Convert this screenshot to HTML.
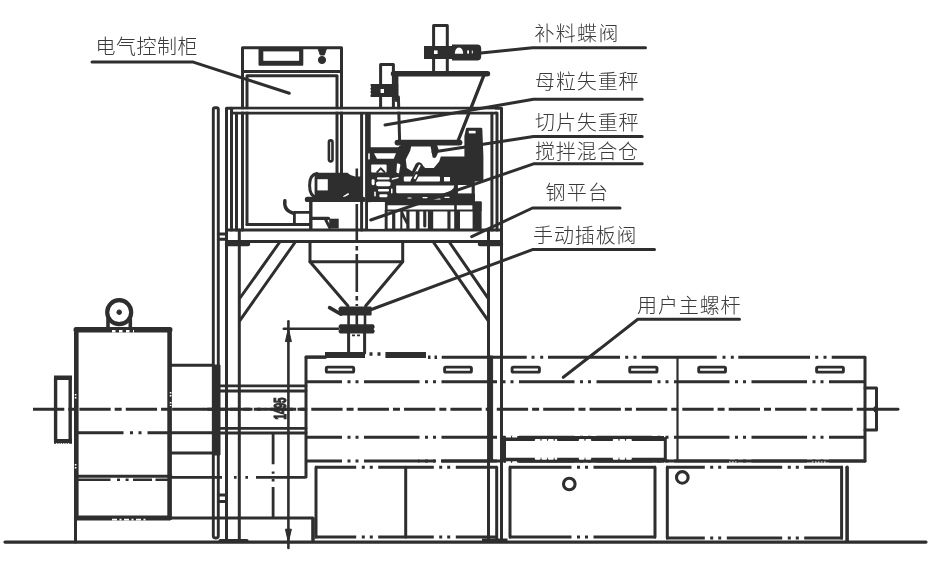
<!DOCTYPE html>
<html lang="zh">
<head>
<meta charset="utf-8">
<style>
html,body{margin:0;padding:0;background:#fff;}
body{width:930px;height:570px;overflow:hidden;}
svg{display:block;will-change:transform;}
text{font-family:"Liberation Sans","Noto Sans CJK SC",sans-serif;font-weight:300;font-size:20px;fill:#3a3a3a;}
.l{fill:none;stroke:#2e2e2e;stroke-width:3;stroke-linecap:round;stroke-linejoin:round;}
.t{fill:none;stroke:#2e2e2e;stroke-width:2.9;stroke-linecap:round;stroke-linejoin:round;}
.k{fill:none;stroke:#2e2e2e;stroke-width:4.5;stroke-linecap:round;stroke-linejoin:round;}
.f{fill:#2e2e2e;stroke:#2e2e2e;stroke-width:1;stroke-linejoin:round;}
.w{fill:#fff;stroke:none;}
.d0{stroke-linecap:butt;}
.dot{stroke-linecap:round;}
</style>
</head>
<body>
<svg width="930" height="570" viewBox="0 0 930 570">
<rect width="930" height="570" fill="#fff"/>



<!-- GROUND -->
<path class="l" d="M5 542.1H926" style="stroke-width:3.2"/>


<!-- CENTRE LINE -->
<path class="t" d="M33 409.3H864" stroke-dasharray="31.3 4 7 4.08" style="stroke-linecap:butt"/>
<path class="t" d="M864 409.3H898"/>

<!-- MOTOR -->
<g id="motor">
<circle class="l" cx="119.2" cy="312.2" r="12" style="stroke-width:4.2"/>
<circle class="f" cx="119.2" cy="312.2" r="2.3"/>
<path class="l" d="M108 319V328M130.3 319V328" style="stroke-width:3.6"/>
<path class="k" d="M76.3 329.6V518M169.6 329.6V518" style="stroke-width:4.6"/>
<path class="k" d="M76.2 329.7H169.8" style="stroke-width:5.4"/>
<path class="k" d="M76.2 518H169.8" style="stroke-width:4.8"/>
<path d="M112 331.2H134" fill="none" stroke="#fff" stroke-width="2.4" stroke-dasharray="3.5 3.5"/>
<path class="l" d="M75.5 518V542"/>
<path d="M75.6 394V400M75.6 464V470M170.6 392V397M170.6 402V406" fill="none" stroke="#fff" stroke-width="1.6" stroke-dasharray="1.6 1.4"/>
<path class="l" d="M76 476.2H171"/>
<path class="l" d="M76 479.8H110.5M117 479.8H120M125.6 479.8H128.6M133 479.8H152M155.5 479.8H171" style="stroke-linecap:butt;stroke-width:2.6"/>
<path d="M112 519.6H146" fill="none" stroke="#fff" stroke-width="1.6" stroke-dasharray="5 2.5 2 2.5"/>
<path class="l" d="M171 477.3H222M234 477.3H236.6M245.4 477.3H248M256 477.3H305.5" style="stroke-linecap:butt;stroke-width:2.8"/>
<path class="t" d="M273.1 432.8V464.2M273.1 471.4V473.8M273.1 479V481.4M273.1 487V518" style="stroke-linecap:butt;stroke-width:2.8"/>
<path class="t" d="M218.3 495H226.5M218.3 501.5H226.5"/>
<path class="l" d="M171 518H313"/>
<path class="l" d="M77 432.7H213" stroke-dasharray="46.5 6.5 3 5.5 3 6 100" style="stroke-linecap:butt"/>
<path class="l" d="M220 385.8H306M220 391H306M220 428.3H306M220 433H306" style="stroke-width:2.8"/>
<path class="t" d="M203 409.3H306" stroke-dasharray="9 4.5" style="stroke-linecap:butt"/>
<path class="l" d="M55.6 378V441.5M70.2 378V441.5" style="stroke-width:3.4"/>
<path class="k" d="M54 377.8H72M54 441.4H72" style="stroke-width:4.6;stroke-linecap:butt"/>
<path d="M56 443.6H70" fill="none" stroke="#fff" stroke-width="1" stroke-dasharray="1.2 1.2"/>
<path class="l" d="M171 365.3H213M171 453H213"/>
<rect class="f" x="213" y="365" width="7" height="90"/>
</g>

<!-- POSTS / FRAME -->
<g id="frame">
<path class="t" d="M213.3 536V109.5Q213.3 107.7 215 107.7H216.7Q218.3 107.7 218.3 109.5V536Q218.3 538 215.8 538Q213.3 538 213.3 536Z"/>
<path class="l" d="M226.5 541V108.2H501.5V541"/>
<path class="l" d="M231.5 230V108.2M231.5 112.9H497V230"/>
<path class="l" d="M236.5 112.9V230"/>
<path class="l" d="M239.3 230V541M488.5 230V357"/>
<path class="l" d="M491.9 112.9V230"/>
<path class="l" d="M220 540.5H247"/>
<!-- deck -->
<path class="l" d="M226.5 230H501.5M226.5 241.5H501.5" />
<path class="k" d="M227 244H248M480 244H501"/>
<path class="t" d="M218.3 234H226.5M218.3 239.2H226.5"/>
<!-- braces -->
<path class="l" d="M279.8 242L240 298M295.3 242L240 320.3"/>
<path class="l" d="M433.3 242L488 320.3M449.3 242L488 298.2"/>
</g>

<!-- ELECTRICAL CABINET -->
<g id="cabinet">
<path class="l" d="M242.5 230V47.7H341.5V173"/>
<path class="l" d="M242.5 71.4H341.5"/>
<path class="l" d="M247 224.6V75.7H337V173"/>
<path class="l" d="M247 224.6H310"/>
<rect x="258.5" y="48.5" width="44.8" height="17.2" rx="1" fill="#2e2e2e"/>
<rect class="w" x="263.3" y="51.4" width="35.8" height="9.4"/>
<path class="f" d="M318 48.5h8.5l-2.2 6.5h-4z"/>
<circle class="f" cx="322" cy="60" r="3.6"/>
<rect class="t" x="328.9" y="140.4" width="3.6" height="21" rx="1.8" style="stroke-width:2.6"/>
</g>


<!-- MACHINERY ON DECK -->
<g id="mach">
<!-- refill pipe + butterfly valve -->
<path class="l" d="M433.6 73V25.4H447.3V73"/>
<path d="M424 46H452V44.6H477.2Q481.2 44.6 481.2 48.6V56.4Q481.2 60.4 477.2 60.4H452V59H424Z" fill="#2e2e2e"/>
<rect class="w" x="434" y="50.4" width="3.6" height="3.6"/>
<path class="w" d="M454.8 53.8Q455 48 459 47.6Q463 48 463.2 53.8Z"/>
<rect class="w" x="467.2" y="50.4" width="1.8" height="3.2"/>
<rect class="w" x="471.8" y="50.6" width="1" height="2.8"/>
<!-- small pipe + valve -->
<path class="l" d="M380.6 107V64.6H393.4V107"/>
<path d="M371.5 84H398.2V97H371.5Q370 97 370.4 95.5L371.2 93.7L370.3 92L371.2 90.4L370.3 88.7L371.2 87L370.4 85.3Q370.2 84 371.5 84Z" fill="#2e2e2e"/>
<rect class="w" x="380.6" y="89" width="3.4" height="4"/>
<!-- weigh hopper -->
<path class="k" d="M393.5 73.7H487.5" style="stroke-width:5.4"/>
<path class="k" d="M396.4 76V100" style="stroke-width:4"/>
<path class="l" d="M398.4 97L399.6 140"/>
<path class="l" d="M483.6 76L457.4 142.5" style="stroke-width:3.4"/>
<path class="k" d="M397.5 142.6H459.5" style="stroke-width:5.8"/>
<!-- interior post -->
<path class="l" d="M361.6 112.9V230"/>
<path class="k" d="M367.9 112.9V230" style="stroke-width:5.6;stroke-linecap:butt"/>
<!-- dark equipment mass -->
<path d="M369 147.2H398L401 145H437L441 156.4H464.4V136L466 128.6Q466.2 127.8 467.2 127.8H481Q482.2 127.8 482.3 128.8L483.4 156V181.4H474.8V201.5H366V162Z" fill="#2e2e2e"/>
<!-- white cut-outs -->
<path class="w" d="M374 153.2H396L393.8 158.8H377Z"/>
<path class="w" d="M371.2 165.4Q371.2 164.6 372 164.6H385.6Q386.6 164.6 386.6 165.6V171.4Q386.6 172.4 385.6 172.4H372.2Q371.2 172.4 371.2 171.4Z"/>
<path d="M376.6 172.6L380.8 168.4L385 172.6" fill="none" stroke="#2e2e2e" stroke-width="2"/>
<rect class="w" x="377" y="177.2" width="12.6" height="2.2" rx="1"/>
<rect class="w" x="376" y="181.4" width="14.6" height="4.8" rx="2.2"/>
<rect class="w" x="378" y="189" width="11" height="2.6" rx="1"/>
<rect class="w" x="379" y="194.2" width="9" height="3.4" rx="1"/>
<rect class="w" x="368.2" y="153.4" width="1.6" height="6"/>
<rect class="w" x="371.6" y="179.2" width="3" height="6" rx="1.4"/>
<path class="w" d="M397 163.6Q400 163 400.4 165L399 173.2Q397 173.6 396.4 172Z"/>
<path class="w" d="M411.2 146.4H430.6L432.6 157.2Q434 158.8 436 157.2L439.2 150.2L451 146.4V148L442.4 151.8L439.2 161.6L433.8 168H425.2L420 162.6Q417.4 161.4 415.6 164L412 171.2L406.8 168L405.8 159.4L410.2 150.8Z"/>
<path d="M419.6 165.6L414.4 175.6" fill="none" stroke="#2e2e2e" stroke-width="5.6" stroke-linecap="round"/>
<path d="M419.6 165.6L414.4 175.6" fill="none" stroke="#fff" stroke-width="2" stroke-linecap="round"/>
<rect class="w" x="403.8" y="176.6" width="36.2" height="4.8" rx="1"/>
<path d="M417 174L413.2 181" fill="none" stroke="#2e2e2e" stroke-width="5.2" stroke-linecap="round"/>
<path d="M416.4 175.2L414.8 178.2" fill="none" stroke="#fff" stroke-width="2" stroke-linecap="round"/>
<rect class="w" x="444" y="177" width="6" height="4.4"/>
<path class="w" d="M396.2 185.6H454.2Q454.2 190 446 193.2H397.4Q396.2 193.2 396.2 192Z"/>
<rect class="w" x="457.9" y="185" width="13.7" height="8.4"/>
<rect class="w" x="457" y="149.8" width="7" height="5.4"/>
<rect class="w" x="468.8" y="130.8" width="6.8" height="2.6"/>

<!-- scale platform + legs -->
<rect x="366" y="194" width="109" height="8" fill="#2e2e2e"/>
<rect x="384.7" y="201.3" width="96.9" height="10.3" rx="1" fill="#2e2e2e"/>
<rect class="w" x="387.6" y="205.3" width="66.6" height="4.2"/>
<rect class="w" x="456.8" y="205.3" width="15.8" height="4.2"/>
<rect class="w" x="368" y="202.2" width="16.7" height="26.6"/>
<path d="M445 197.4H449M430.5 199H440M423 197.6H427M408 198H411" fill="none" stroke="#fff" stroke-width="1.2" stroke-linecap="round"/>
<rect class="w" x="379.4" y="194.2" width="8" height="3" rx="1"/>
<rect class="w" x="374.2" y="191.6" width="1.6" height="5" rx="0.8"/>
<rect class="w" x="391" y="188.4" width="1.5" height="5" rx="0.7"/>
<path d="M392.4 179L398 177.6" fill="none" stroke="#fff" stroke-width="1.4" stroke-linecap="round"/>
<g fill="#2e2e2e">
<rect x="384.7" y="210" width="2.9" height="19"/>
<rect x="392.1" y="210" width="3.2" height="19"/>
<path d="M400.3 210H402.3L406.3 219V210H409.5V229H406.3V224.6L402.3 217V229H400.3Z"/>
<rect x="415.8" y="210" width="3.7" height="19"/>
<rect x="423.2" y="210" width="3.1" height="17.4" rx="1.4"/>
<rect x="427.9" y="210" width="5.3" height="19"/>
<rect x="447.4" y="210" width="3.1" height="19"/>
<rect x="454.2" y="210" width="5.8" height="19"/>
<rect x="472.6" y="202" width="9" height="27"/>
</g>
<!-- left motor -->
<path class="l" d="M317 173.6Q309.6 174.6 309.6 185.4Q309.6 196.4 317 197.4" style="stroke-width:3"/>
<path d="M314.6 172.8H347.4Q350.6 176 355 176.6H362.4V199H314.6Z" fill="#2e2e2e"/>
<rect class="w" x="317.4" y="179.2" width="10.4" height="11.2"/>
<path d="M343.8 196.6L348.2 194" fill="none" stroke="#fff" stroke-width="1.6" stroke-linecap="round"/>
<path class="k" d="M307.4 199.4H363" style="stroke-width:5.2"/>
<path class="l" d="M310.8 201V229" style="stroke-width:3.4"/>
<path class="l" d="M294.4 212.4H310M294.4 212.4V224" style="stroke-width:2.8"/>
<path class="l" d="M284.9 200.6Q283.4 210.6 293.6 213.4" style="stroke-width:3.4"/>
<path class="l" d="M312.4 218.4H328.4" style="stroke-width:3.4"/>
<path class="l" d="M325.6 219.6L329.6 227.4" style="stroke-width:3"/>
<rect x="329.2" y="218.7" width="9.5" height="9.8" fill="#2e2e2e"/>
</g>

<path d="M233.4 110.55H495" fill="none" stroke="#fff" stroke-width="1.9"/>
<!-- HOPPER CONE + VALVE -->
<g id="cone">
<path class="l" d="M310 242V261.7H402.7V242"/>
<path class="l" d="M310 261.7L348 306M402.7 261.7L365.6 306"/>
<path class="t" d="M356.8 168.4V306" stroke-dasharray="38 4 4.5 3.5" stroke-dashoffset="14.4" style="stroke-linecap:butt;stroke-width:2.6"/>
<path class="l" d="M329.6 307.6L341 314.2" style="stroke-width:3.6"/>
<path d="M340 306.4H370.6Q371.6 306.4 371.6 307.4V314.4Q371.6 315.4 370.6 315.4H340L338.6 313.6V308.2Z" fill="#2e2e2e"/>
<path d="M340 324.2H373.4L374.6 326V327.6L373.6 329L374.6 330.4V332L373.4 333.6H340L338.6 332V330.4L339.8 329L338.6 327.6V326Z" fill="#2e2e2e"/>
<path class="l" d="M348.6 315V324M365 315V324M356.8 315V324" style="stroke-width:2.6"/>
<path class="l" d="M348.6 333V353M364.6 333V353"/>
<path class="t" d="M352 335.4H361" stroke-dasharray="3 2" style="stroke-linecap:butt;stroke-width:1.6"/>
<path class="k" d="M325 355H365M385.4 355H426" style="stroke-width:5.8;stroke-linecap:butt"/>
<path class="t" d="M369.5 354H372.5M377.5 354H380.5M428 357.3H430.5M434.5 357.3H437" style="stroke-linecap:butt;stroke-width:3.4"/>
</g>

<!-- DIMENSION -->
<g id="dim" style="will-change:transform">
<path class="t" d="M283.8 328.8H338" style="stroke-width:2.6"/>
<path class="t" d="M288.4 321.2V548" style="stroke-width:2.6"/>
<path class="f" d="M288.4 328.5L285.4 341.6H291.4Z"/>
<path class="f" d="M288.4 542L285.4 529.2H291.4Z"/>
<text x="0" y="0" transform="translate(285.8 419.6) rotate(-90) scale(0.6 1)" style="font-size:16.5px;font-weight:700;fill:#2e2e2e;stroke:#2e2e2e;stroke-width:1.2">1495</text>
</g>

<!-- EXTRUDER -->
<g id="extruder">
<path class="l" d="M306 477V357.3H325"/>
<!-- top line -->
<path class="t" d="M306 357H326"/>
<path class="t d0" d="M441.7 357.3H526.7M548 357.3H620M641.7 357.3H716.7M738.3 357.3H810M831.7 357.3H865"/>
<path class="t d0" d="M531.5 357.3H534.5M540.2 357.3H543.2M625.2 357.3H628.2M633.5 357.3H636.5M722.5 357.3H725.5M730.8 357.3H733.8M815.2 357.3H818.2M823.5 357.3H826.5"/>
<path class="l" d="M865 357.3V461"/>
<!-- dash-dot-dot lines -->
<path class="t d0" d="M306.0 381.7H342.0M347.5 381.7H350.5M355.5 381.7H358.5M364.0 381.7H419.5M425.0 381.7H428.0M433.0 381.7H436.0M441.5 381.7H497.0M502.5 381.7H505.5M510.5 381.7H513.5M519.0 381.7H574.5M580.0 381.7H583.0M588.0 381.7H591.0M596.5 381.7H652.0M657.5 381.7H660.5M665.5 381.7H668.5M674.0 381.7H729.5M735.0 381.7H738.0M743.0 381.7H746.0M751.5 381.7H807.0M812.5 381.7H815.5M820.5 381.7H823.5M829.0 381.7H865.0"/>
<path class="t d0" d="M306.0 437.3H342.0M347.5 437.3H350.5M355.5 437.3H358.5M364.0 437.3H419.5M425.0 437.3H428.0M433.0 437.3H436.0M441.5 437.3H497.0M502.5 437.3H505.5M510.5 437.3H513.5M519.0 437.3H574.5M580.0 437.3H583.0M588.0 437.3H591.0M596.5 437.3H652.0M657.5 437.3H660.5M665.5 437.3H668.5M674.0 437.3H729.5M735.0 437.3H738.0M743.0 437.3H746.0M751.5 437.3H807.0M812.5 437.3H815.5M820.5 437.3H823.5M829.0 437.3H865.0"/>
<!-- bottom of barrel -->
<path class="t d0" d="M306.0 461H342.0M347.5 461H350.5M355.5 461H358.5M364.0 461H419.5M425.0 461H428.0M433.0 461H436.0M441.5 461H497.0M502.5 461H505.5M510.5 461H513.5M519.0 461H574.5M580.0 461H583.0M588.0 461H591.0M596.5 461H652.0M657.5 461H660.5M665.5 461H668.5M674.0 461H729.5M735.0 461H738.0M743.0 461H746.0M751.5 461H807.0M812.5 461H815.5M820.5 461H823.5M829.0 461H865.0"/>
<path class="t" d="M418 461H435M441 461H500" style="stroke-linecap:butt"/>
<path class="l" d="M665 461H865"/>
<path d="M729 462H738M812 462H826" fill="none" stroke="#fff" stroke-width="1.2" stroke-dasharray="1.5 1.5"/>
<path class="l" d="M677.5 357.3V461" style="stroke-width:2.2"/>
<rect class="f" x="487.6" y="356" width="5" height="105"/>
<path class="l" d="M501.5 357.3V541"/>
<!-- screen changer block -->
<path class="k" d="M504 438.4H664M504 460.2H664" style="stroke-width:5;stroke-linecap:butt"/>
<path class="l" d="M665.3 438.3V460.3M504.5 438.3V460"/>
<path d="M536 440.2H556M580 440.2H593M614 440.2H632M536 458.4H556M580 458.4H593M614 458.4H632" fill="none" stroke="#fff" stroke-width="2.6" stroke-dasharray="3.4 3.2" stroke-linecap="round"/>
<path d="M507 436.4H517M507 462.4H517" fill="none" stroke="#fff" stroke-width="2.4" stroke-dasharray="3 3.2" stroke-linecap="round"/>
<g class="t">
<rect x="326.3" y="367.1" width="27.4" height="5" rx="1.2"/>
<rect x="444.6" y="367.1" width="26.8" height="5" rx="1.2"/>
<rect x="512.1" y="367.1" width="27.3" height="5" rx="1.2"/>
<rect x="629.7" y="367.1" width="27.3" height="5" rx="1.2"/>
<rect x="698.7" y="367.1" width="26.8" height="5" rx="1.2"/>
<rect x="816.6" y="367.1" width="26.8" height="5" rx="1.2"/>
</g>
<path class="l" d="M865 388H876.5V430H865"/>
<path class="f" d="M876.5 404.8L872.6 409.3L876.5 413.8Z"/>
<!-- base cabinets -->
<path class="l" d="M316 537V467.3M405.7 467.3V537M488.5 461V541M496.7 467.3V541"/>
<path class="t d0" d="M315.0 467.3H356.2M361.8 467.3H364.8M369.8 467.3H372.8M378.2 467.3H433.8M439.2 467.3H442.2M447.2 467.3H450.2M455.8 467.3H497.0"/>
<path class="t d0" d="M315.0 537H356.2M361.8 537H364.8M369.8 537H372.8M378.2 537H433.8M439.2 537H442.2M447.2 537H450.2M455.8 537H497.0"/>
<path class="l" d="M510 467.3V537M655 467.3V537"/>
<path class="t d0" d="M509.0 467.3H571.5M577.0 467.3H580.0M585.0 467.3H588.0M593.5 467.3H656.0"/>
<path class="t d0" d="M509.0 537H571.5M577.0 537H580.0M585.0 537H588.0M593.5 537H656.0"/>
<path class="l" d="M667.3 467.3V538M841.6 467.3V538"/>
<path class="t d0" d="M666.0 467.3H704.8M710.2 467.3H713.2M718.2 467.3H721.2M726.8 467.3H782.2M787.8 467.3H790.8M795.8 467.3H798.8M804.2 467.3H843.0"/>
<path class="t d0" d="M666.0 538H704.8M710.2 538H713.2M718.2 538H721.2M726.8 538H782.2M787.8 538H790.8M795.8 538H798.8M804.2 538H843.0"/>
<path class="l" d="M847.1 467.3V541" style="stroke-width:3.6"/>
<circle class="l" cx="569.3" cy="484" r="5.8" style="stroke-width:3.1"/>
<circle class="l" cx="682.3" cy="477.4" r="5.8" style="stroke-width:3.1"/>
<path class="l" d="M313 519V540" style="stroke-width:3.6"/>
<path class="l" d="M482 540.2H507.5" style="stroke-width:3.4;stroke-linecap:butt"/>
</g>
<!-- LABELS -->
<g id="labels" style="will-change:transform">
<text x="95.4" y="53.5" textLength="102">电气控制柜</text>
<text x="534.4" y="40.6" textLength="84">补料蝶阀</text>
<text x="535" y="88.7" textLength="103.5">母粒失重秤</text>
<text x="535" y="130" textLength="103.5">切片失重秤</text>
<text x="535" y="159" textLength="103">搅拌混合仓</text>
<text x="545.6" y="200.3" textLength="62.5">钢平台</text>
<text x="533" y="243.3" textLength="103.5">手动插板阀</text>
<text x="637" y="312.8" textLength="103.5">用户主螺杆</text>
<path class="l" d="M92 62.1H193.3L289.3 93.3"/>
<path class="l" d="M645.5 47.8H532.5L481 53"/>
<path class="l" d="M642.2 99.2H533.5L385 125"/>
<path class="l" d="M642.2 136.4H533.5L433 152"/>
<path class="l" d="M642.2 163.8H533.5L370.7 220"/>
<path class="l" d="M620 208H532.5L471.7 236.7"/>
<path class="l" d="M654.5 249.6H532.5L370 310"/>
<path class="l" d="M739.5 319.3H637.8L563.3 377.3"/>
</g>
</svg>
</body>
</html>
